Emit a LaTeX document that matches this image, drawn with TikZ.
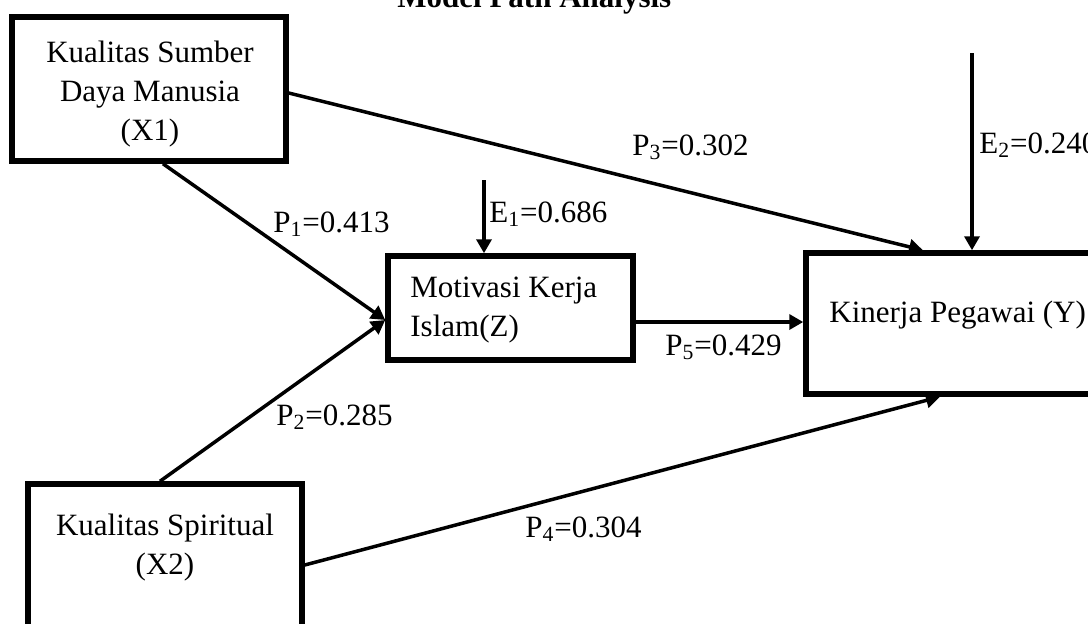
\documentclass[tikz,border=0pt]{standalone}
\usepackage{fontspec}
\setmainfont{Liberation Serif}
\usetikzlibrary{arrows.meta,calc}
\tikzset{
  box/.style={draw, line width=2.75pt, rectangle, inner sep=0pt},
  txt/.style={font=\fontsize{15.5pt}{19.5pt}\selectfont, inner sep=0pt},
  lbl/.style={txt, anchor=base west},
  link/.style={line width=1.75pt, -{Triangle[length=7pt,width=7.5pt]}}
}
\begin{document}
\begin{tikzpicture}[x=0.5pt,y=-0.5pt]
\useasboundingbox (0,0) rectangle (1088,623);
\clip (0,0) rectangle (1088,623);
\fill[white] (0,0) rectangle (1088,623);
% boxes
\node[box, minimum width=137pt, minimum height=72pt] (X1) at (149,89) {};
\node[txt, align=center, anchor=north] (X1t) at (150,41) {Kualitas Sumber\\Daya Manusia\\(X1)};
\node[box, minimum width=122.5pt, minimum height=52pt] (Z) at (510.5,308) {};
\node[txt, align=left, anchor=north west] (Zt) at (410,277) {Motivasi Kerja\\Islam(Z)};
\node[box, minimum width=152pt, minimum height=70.5pt] (Y) at (958,323.5) {};
\node[lbl] (Yt) at (829,322) {Kinerja Pegawai (Y)};
\node[box, minimum width=137pt, minimum height=83pt] (X2) at (165,567) {};
\node[txt, align=center, anchor=north] (X2t) at (165,514) {Kualitas Spiritual\\(X2)};
% connectors
\draw[link] ([xshift=7pt]X1.south) -- ([yshift=-6pt]Z.west);
\draw[link] ([xshift=-2.5pt]X2.north) -- ([yshift=-6pt]Z.west);
\draw[link] ([yshift=-2pt]X1.east) -- ([xshift=-17.5pt]Y.north);
\draw[link] ([yshift=1pt]X2.east) -- ([xshift=-9pt]Y.south);
\draw[link] ([yshift=-7pt]Z.east) -- ([yshift=-7pt]Z.east -| Y.west);
\coordinate (e1) at (484,180);
\coordinate (e2) at (972,53);
\draw[link] (e1) -- (e1 |- Z.north);
\draw[link] (e2) -- (e2 |- Y.north);
% labels
\node[lbl] (p1) at (273,232) {P\textsubscript{1}=0.413};
\node[lbl] (p2) at (276,425) {P\textsubscript{2}=0.285};
\node[lbl] (p3) at (632,155) {P\textsubscript{3}=0.302};
\node[lbl] (p4) at (525,537) {P\textsubscript{4}=0.304};
\node[lbl] (p5) at (665,355) {P\textsubscript{5}=0.429};
\node[lbl] (le1) at (489,222) {E\textsubscript{1}=0.686};
\node[lbl] (le2) at (979,153) {E\textsubscript{2}=0.240};
\node[lbl, font=\fontsize{15.5pt}{19.5pt}\selectfont\bfseries] (title) at (397,7) {Model Path Analysis};
\end{tikzpicture}
\end{document}
